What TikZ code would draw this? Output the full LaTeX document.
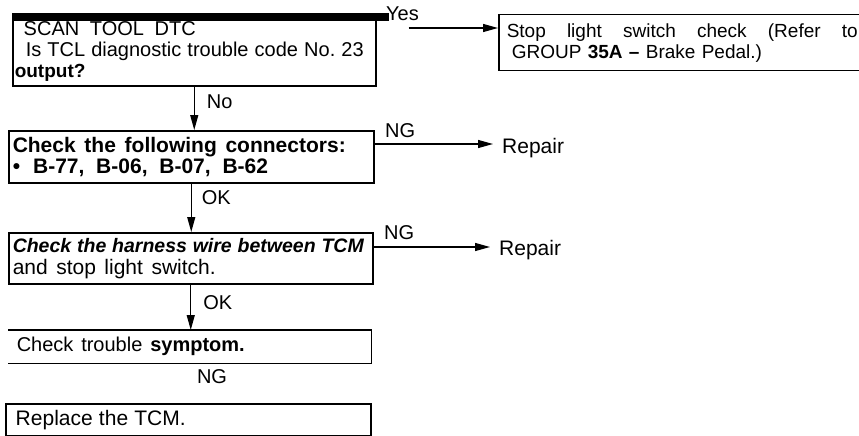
\documentclass[tikz,border=0pt]{standalone}
\usepackage{fontspec}
\setmainfont{Liberation Sans}
\usetikzlibrary{arrows.meta, positioning}
% spread one line of text to a given width
\newcommand{\spreadto}[2]{{\frenchspacing\spaceskip=0.278em plus 1fil\relax\hbox to #1{#2}}}
\newcommand{\fs}[1]{\fontsize{#1}{#1}\selectfont}

\begin{document}
\begin{tikzpicture}[x=1pt, y=-1pt,
    every node/.style={font=\fontsize{20}{21}\selectfont, inner sep=0pt},
    stepbox/.style={draw, line width=1.5pt, anchor=north west, align=left,
                    inner ysep=0pt, inner xsep=#1},
    stepbox/.default=4pt,
    rep/.style={anchor=west, inner xsep=9pt, font=\fontsize{21}{24}\selectfont},
    arr/.style={-{Triangle[length=15pt,width=8pt]}, line width=1.2pt},
  ]
  \useasboundingbox (0,0) rectangle (859,436);

  \node[stepbox=2pt, text width=359pt, minimum height=68pt] (dtc) at (12,17)
    {\hspace{9pt}\spreadto{172pt}{SCAN TOOL DTC}\\
     \hspace{11pt}\spreadto{338pt}{Is TCL diagnostic trouble code No. 23}\\
     {\fs{19}\textbf{output?}}};
  \draw[line width=8pt] (dtc.north west) -- ([xshift=12pt]dtc.north east);

  \node[stepbox=8pt, text width=351pt, minimum height=56pt,
        font=\fontsize{19}{21}\selectfont] (stop) at (498,14)
    {\spreadto{351pt}{Stop light switch check (Refer to}\\
     \hspace{5pt}GROUP \textbf{35A --} Brake Pedal.)};

  \node[stepbox=4pt, text width=357pt, minimum height=52pt,
        font=\fontsize{21}{21}\selectfont] (conn) at (8,130)
    {\spreadto{333pt}{\bfseries Check the following connectors:}\\
     {\bfseries \textbullet\hspace{13pt}\spreadto{235pt}{B-77, B-06, B-07, B-62}}};

  \node[stepbox=4pt, text width=356pt, minimum height=51pt,
        font=\fontsize{21}{22}\selectfont] (hrns) at (8,232)
    {\spreadto{348pt}{\fs{19.5}\bfseries\itshape Check the harness wire between TCM}\\
     \spreadto{203pt}{and stop light switch.}};

  \node[stepbox=8pt, draw=none, text width=346pt, minimum height=32pt] (symp) at (8,330)
    {\spreadto{228pt}{Check trouble \textbf{symptom.}}};
  \draw[line width=1.5pt] (symp.north west) -- (symp.north east)
    -- (symp.south east) -- (symp.south west);
  \node (ng) at (212,377) {NG};

  \node[stepbox=10pt, text width=345pt, minimum height=32pt,
        font=\fontsize{21}{21}\selectfont] (tcm) at (5,403)
    {\spreadto{170pt}{Replace the TCM.}};

  \node[rep] (rep1) at (493,148) {Repair};
  \node[rep] (rep2) at (490,250) {Repair};

  % yes / ng branches
  \coordinate (yes) at ([xshift=32pt, yshift=-11pt]dtc.north east);
  \draw[arr] (yes) -- (yes -| stop.west)
    node[pos=0, xshift=-6pt, yshift=14pt] {Yes};
  \coordinate (ng1) at ([yshift=-14pt]conn.north east);
  \draw[arr] (ng1) -- (ng1 -| rep1.west)
    node[pos=0, anchor=south west, xshift=10pt, yshift=6pt] {NG};
  \coordinate (ng2) at ([yshift=-15pt]hrns.north east);
  \draw[arr] (ng2) -- (ng2 -| rep2.west)
    node[pos=0, anchor=south west, xshift=10pt, yshift=7pt] {NG};

  % main line
  \draw[arr] (dtc.south) -- (dtc.south |- conn.north)
    node[pos=0.35, anchor=west, xshift=12pt] {No};
  \draw[arr] (conn.south) -- (conn.south |- hrns.north)
    node[pos=0.3, anchor=west, xshift=10pt] {OK};
  \draw[arr] (hrns.south) -- (hrns.south |- symp.north)
    node[pos=0.4, anchor=west, xshift=12pt] {OK};
\end{tikzpicture}
\end{document}
